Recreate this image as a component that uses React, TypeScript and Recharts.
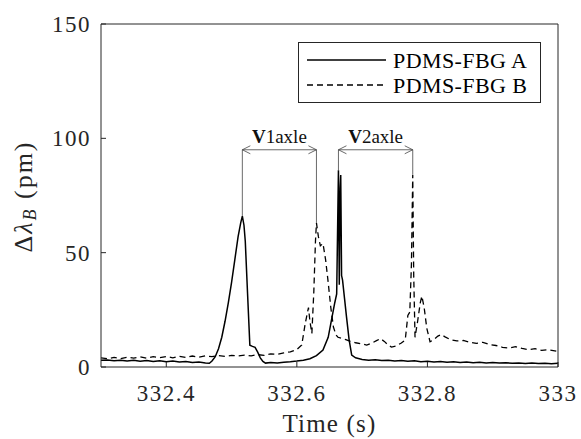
import { LineChart, Line, XAxis, YAxis, Legend, ReferenceLine } from "recharts";

// Time (s) and wavelength shift (pm)
const timeA = [
  332.3, 332.31, 332.32, 332.33, 332.34, 332.35, 332.36, 332.37, 332.38, 332.39,
  332.4, 332.41, 332.42, 332.43, 332.44, 332.45, 332.46, 332.466, 332.47, 332.475,
  332.48, 332.485, 332.49, 332.495, 332.5, 332.505, 332.51, 332.514, 332.5165, 332.519,
  332.521, 332.5245, 332.528, 332.532, 332.536, 332.54, 332.544, 332.548, 332.552, 332.56,
  332.57, 332.58, 332.59, 332.6, 332.61, 332.62, 332.63, 332.64, 332.648, 332.653,
  332.658, 332.661, 332.6637, 332.665, 332.6663, 332.6672, 332.6685, 332.67, 332.673, 332.676,
  332.68, 332.684, 332.69, 332.7, 332.71, 332.72, 332.73, 332.74, 332.75, 332.76,
  332.77, 332.78, 332.79, 332.8, 332.81, 332.82, 332.83, 332.84, 332.85, 332.86,
  332.87, 332.88, 332.89, 332.9, 332.91, 332.92, 332.93, 332.94, 332.95, 332.96,
  332.97, 332.98, 332.99, 333
];
const deltaA = [
  2.9, 3.1, 2.7, 3.0, 2.6, 2.9, 2.5, 2.8, 2.4, 2.7,
  2.3, 2.6, 2.2, 2.4, 2.0, 2.2, 1.8, 1.6, 2.6, 4.5,
  8, 13, 20, 28, 37, 47, 57, 63, 66, 62,
  55, 32, 9.5, 9.0, 8.6, 6.5, 4.0, 2.4, 1.7, 2.0,
  1.8, 2.1, 2.3, 2.6, 3.0, 3.6, 5.0, 7.4, 13, 20.5,
  28, 32, 86, 36, 78, 84, 40, 38, 30, 22,
  12, 5.2, 4.0, 3.3, 3.0, 3.2, 2.8, 3.0, 2.6, 2.8,
  2.5, 2.7, 2.3, 2.5, 2.2, 2.4, 2.1, 2.3, 2.0, 2.2,
  1.9, 2.1, 1.8, 2.0, 1.7, 1.9, 1.6, 1.8, 1.5, 1.7,
  1.5, 1.6, 1.4, 1.6
];

const timeB = [
  332.3, 332.31, 332.32, 332.33, 332.34, 332.35, 332.36, 332.37, 332.38, 332.39,
  332.4, 332.41, 332.42, 332.43, 332.44, 332.45, 332.46, 332.47, 332.48, 332.49,
  332.5, 332.51, 332.52, 332.53, 332.54, 332.55, 332.56, 332.57, 332.58, 332.59,
  332.6, 332.6075, 332.6128, 332.6178, 332.62, 332.623, 332.626, 332.6285, 332.63, 332.633,
  332.636, 332.64, 332.644, 332.648, 332.652, 332.656, 332.66, 332.663, 332.668, 332.675,
  332.682, 332.69, 332.698, 332.707, 332.715, 332.722, 332.728, 332.734, 332.74, 332.745,
  332.752, 332.76, 332.766, 332.77, 332.773, 332.7755, 332.7775, 332.779, 332.781, 332.785,
  332.789, 332.7915, 332.795, 332.799, 332.804, 332.81, 332.816, 332.821, 332.827, 332.835,
  332.845, 332.855, 332.865, 332.875, 332.885, 332.895, 332.905, 332.915, 332.925, 332.935,
  332.945, 332.955, 332.965, 332.975, 332.985, 333
];
const deltaB = [
  4.0, 3.6, 4.2, 3.7, 4.3, 3.9, 4.4, 3.8, 4.5, 4.1,
  4.6, 4.0, 4.7, 4.2, 4.8, 4.3, 4.9, 4.5, 5.0, 4.6,
  5.1, 4.8, 5.2, 4.9, 5.4, 5.1, 5.7, 5.5, 6.2, 6.6,
  7.6, 9.6, 19, 26, 20, 14.7, 33, 55, 63, 57,
  53, 54, 47, 37, 26, 17.5, 14, 13, 12.6, 12,
  11.2, 10.6, 10.2, 9.6, 10.5, 11.5, 12.4, 11.2, 9.5, 8.7,
  9.2, 10.5, 11.8, 22.5, 24, 45, 84, 40, 13, 20,
  28, 31, 26, 17, 11, 12, 13.5, 14.2, 13.2, 12,
  11.4, 11.6, 10.8, 10.3, 10.8, 9.8, 9.4, 8.6, 8.3, 8.9,
  8.1, 7.6, 8.0, 7.3, 7.6, 6.8
];

const xTicks = [332.4, 332.6, 332.8, 333];
const yTicks = [0, 50, 100, 150];
const seriesNames = ["PDMS-FBG A", "PDMS-FBG B"];

// axle spacing annotations: [time on A, time on B]
const axleNames = ["1axle", "2axle"];
const axleStart = [332.5165, 332.6637];
const axleEnd = [332.63, 332.7775];
const arrowLevel = 95;

const seriesA = timeA.map((t, i) => ({ t, v: deltaA[i] }));
const seriesB = timeB.map((t, i) => ({ t, v: deltaB[i] }));

const valueAt = (times: number[], values: number[], t: number) => {
  let best = 0;
  times.forEach((tt, i) => {
    if (Math.abs(tt - t) < Math.abs(times[best] - t)) best = i;
  });
  return values[best];
};

const ink = "#262626";
const font = "Liberation Serif, DejaVu Serif, serif";
const tickStyle = { fontFamily: font, fontSize: 23, fill: ink, letterSpacing: 1.5 };

const renderYLabel = (props: any) => {
  const vb = props.viewBox || { y: 24, height: 343 };
  const cx = 26;
  const cy = vb.y + vb.height / 2 + 1;
  return (
    <text
      x={cx}
      y={cy}
      transform={`rotate(-90 ${cx} ${cy})`}
      textAnchor="middle"
      dominantBaseline="middle"
      style={{ fontFamily: font, letterSpacing: 2 }}
      fontSize={26}
      fill={ink}
    >
      Δ<tspan fontStyle="italic">λ</tspan>
      <tspan fontStyle="italic" fontSize={18} dy={6}>B</tspan>
      <tspan dy={-6}> (pm)</tspan>
    </text>
  );
};

const renderXLabel = (props: any) => {
  const vb = props.viewBox || { x: 101, y: 367, width: 457, height: 72 };
  return (
    <text
      x={vb.x + vb.width / 2}
      y={432}
      textAnchor="middle"
      style={{ fontFamily: font, letterSpacing: 1.2 }}
      fontSize={25}
      fill={ink}
    >
      Time (s)
    </text>
  );
};

const renderLegend = () => (
  <svg width={243} height={61} style={{ display: "block" }}>
    <rect x={0.5} y={0.5} width={242} height={60} fill="#fff" stroke={ink} strokeWidth={1} />
    <line x1={9} y1={18} x2={88} y2={18} stroke="#000" strokeWidth={1.5} />
    <line x1={9} y1={43} x2={88} y2={43} stroke="#000" strokeWidth={1.5} strokeDasharray="6 4" />
    {seriesNames.map((n, i) => (
      <text key={n} x={95} y={26 + i * 25} style={{ fontFamily: font, letterSpacing: 0.4 }} fontSize={22} fill="#000">
        {n}
      </text>
    ))}
  </svg>
);

const makeArrow = (idx: number) => (p: any) => {
  const { x1, y1, x2 } = p;
  const h = 8;
  const w = 4;
  const stroke = "#444";
  return (
    <g>
      <line x1={x1} y1={y1} x2={x2} y2={y1} stroke={stroke} strokeWidth={0.8} />
      <polyline points={`${x1 + h},${y1 - w} ${x1},${y1} ${x1 + h},${y1 + w}`} fill="none" stroke={stroke} strokeWidth={0.8} />
      <polyline points={`${x2 - h},${y1 - w} ${x2},${y1} ${x2 - h},${y1 + w}`} fill="none" stroke={stroke} strokeWidth={0.8} />
      <text x={(x1 + x2) / 2} y={y1 - 7} textAnchor="middle" style={{ fontFamily: font }} fontSize={19} fill="#111">
        <tspan fontWeight="bold">V</tspan>
        {axleNames[idx]}
      </text>
    </g>
  );
};

export default function App() {
  return (
    <div style={{ position: "absolute", left: 0, top: 0, background: "#fff", fontFamily: font }}>
      <LineChart width={581} height={439} margin={{ top: 23, right: 22, bottom: 0, left: 0 }}>
        <XAxis
          dataKey="t"
          type="number"
          domain={[332.3, 333]}
          ticks={xTicks}
          allowDataOverflow
          height={72}
          stroke={ink}
          tickSize={-5}
          tickMargin={23}
          tick={tickStyle}
          label={renderXLabel}
        />
        <XAxis
          xAxisId="top"
          orientation="top"
          type="number"
          domain={[332.3, 333]}
          ticks={xTicks}
          height={1}
          stroke={ink}
          tickSize={-5}
          tickFormatter={() => ""}
        />
        <YAxis
          type="number"
          domain={[0, 150]}
          ticks={yTicks}
          width={101}
          stroke={ink}
          tickSize={-5}
          tickMargin={15}
          tick={tickStyle}
          label={renderYLabel}
        />
        <YAxis
          yAxisId="right"
          orientation="right"
          type="number"
          domain={[0, 150]}
          ticks={yTicks}
          width={1}
          stroke={ink}
          tickSize={-5}
          tickFormatter={() => ""}
        />
        <Legend
          layout="vertical"
          align="center"
          verticalAlign="middle"
          content={renderLegend}
          wrapperStyle={{ position: "absolute", left: 298, top: 42, width: 243, height: 61 }}
        />
        <Line data={seriesA} dataKey="v" name={seriesNames[0]} stroke="#000" strokeWidth={1.5} dot={false} isAnimationActive={false} />
        <Line
          data={seriesB}
          dataKey="v"
          name={seriesNames[1]}
          stroke="#000"
          strokeWidth={1.3}
          strokeDasharray="6 4"
          dot={false}
          isAnimationActive={false}
        />
        {axleStart.map((t, i) => (
          <ReferenceLine
            key={`s${i}`}
            segment={[{ x: t, y: valueAt(timeA, deltaA, t) }, { x: t, y: arrowLevel }]}
            stroke="#444"
            strokeWidth={0.8}
          />
        ))}
        {axleEnd.map((t, i) => (
          <ReferenceLine
            key={`e${i}`}
            segment={[{ x: t, y: valueAt(timeB, deltaB, t) }, { x: t, y: arrowLevel }]}
            stroke="#444"
            strokeWidth={0.8}
          />
        ))}
        {axleStart.map((t, i) => (
          <ReferenceLine
            key={`a${i}`}
            segment={[{ x: t, y: arrowLevel }, { x: axleEnd[i], y: arrowLevel }]}
            shape={makeArrow(i)}
          />
        ))}
      </LineChart>
    </div>
  );
}
